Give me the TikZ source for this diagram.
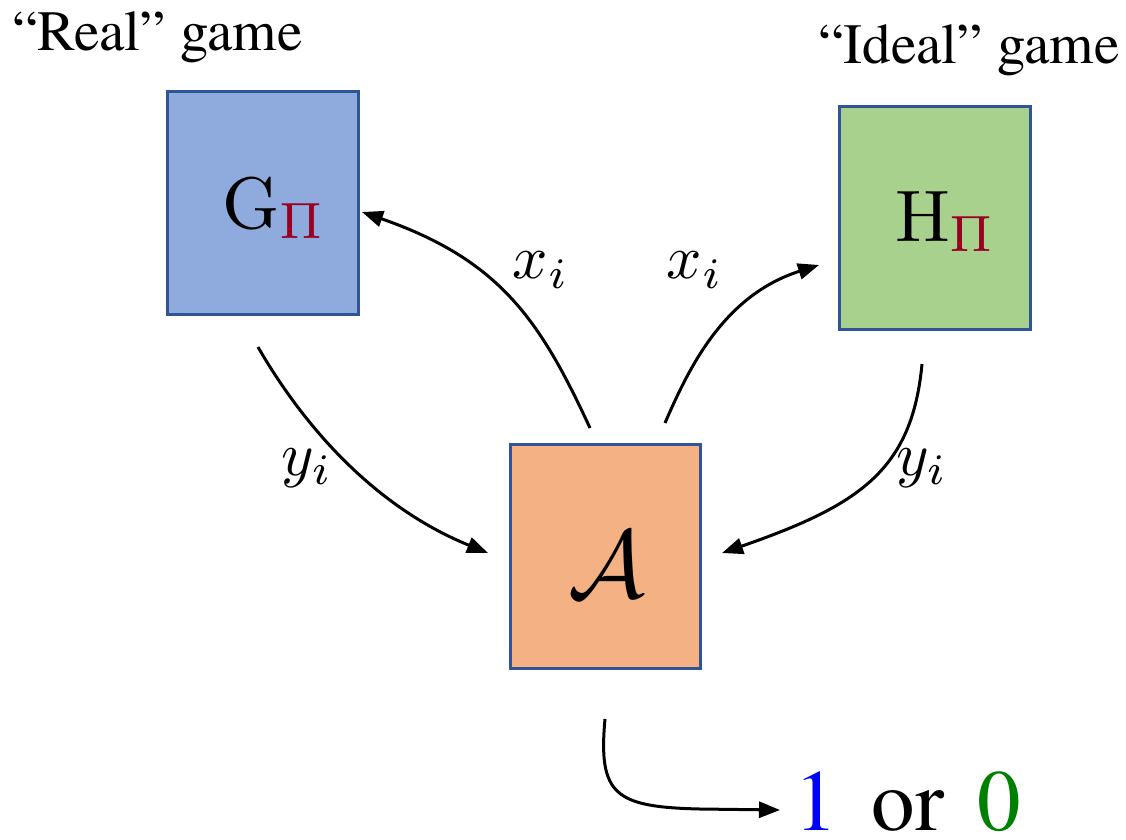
\documentclass[tikz,border=0pt]{standalone}
\usepackage{graphicx}
\usepackage[no-math]{fontspec}
\setmainfont{texgyretermes}[Extension=.otf, UprightFont=*-regular, BoldFont=*-bold, ItalicFont=*-italic, BoldItalicFont=*-bolditalic]
\usetikzlibrary{arrows.meta}
\definecolor{gblue}{HTML}{8FAADC}
\definecolor{ggreen}{HTML}{A9D18E}
\definecolor{gorange}{HTML}{F4B183}
\definecolor{bordc}{HTML}{2F5597}
\definecolor{pired}{HTML}{990022}
\definecolor{oneblue}{HTML}{0000FF}
\definecolor{zerogreen}{HTML}{008000}
\begin{document}
\begin{tikzpicture}[x=1pt,y=-1pt,
  box/.style={draw=bordc, line width=2.8pt, minimum width=191pt, minimum height=223pt, inner sep=0pt, anchor=north west},
  conn/.style={line width=3pt, -{Triangle[length=21pt,width=16pt]}},
  title/.style={anchor=base west, inner sep=0pt, font=\rmfamily\fontsize{57}{60}\selectfont},
  bigmath/.style={anchor=base west, inner sep=0pt},
  lab/.style={inner sep=0pt},
  res/.style={anchor=base, inner sep=0pt, font=\rmfamily\fontsize{87}{90}\selectfont}]
\useasboundingbox (0,0) rectangle (1126,839);

\node[title] (real) at (12,50) {“Real” game};
\node[title] (ideal) at (818,63) {“Ideal” game};

\node[box, fill=gblue] (G) at (166,90) {};
\node[box, fill=ggreen] (H) at (838,105) {};
\node[box, fill=gorange, minimum width=190pt, minimum height=224pt] (A) at (509,443) {};

\node[bigmath] (Gl) at (222,228) {\scalebox{7.3}{$\mathrm{G}_{\textcolor{pired}{\Pi}}$}};
\node[bigmath] (Hl) at (895,241) {\scalebox{7.3}{$\mathrm{H}_{\textcolor{pired}{\Pi}}$}};
\node[anchor=base, inner sep=0pt] (Al) at (607,597) {\scalebox{9.6}{$\mathcal{A}$}};

\coordinate (s1) at (590,428);
\coordinate (e1) at (362,212);
\coordinate (s2) at (665,423);
\coordinate (e2) at (819,265);
\coordinate (s3) at (258,347);
\coordinate (e3) at (488,553);
\coordinate (s4) at (922,364);
\coordinate (e4) at (722,553);
\coordinate (s5) at (605,719);
\coordinate (e5) at (780,810);

\draw[conn] (s1) .. controls (540,320) and (500,260) .. (e1);
\draw[conn] (s2) .. controls (690,365) and (725,295) .. (e2);
\draw[conn] (s3) .. controls (300,420) and (370,505) .. (e3);
\draw[conn] (s4) .. controls (912,470) and (860,505) .. (e4);
\draw[conn] (s5) .. controls (598,795) and (615,807) .. (700,809) -- (e5);

\node[lab] (x1) at (541,270) {\scalebox{6.2}{$x_i$}};
\node[lab] (x2) at (695,270) {\scalebox{6.2}{$x_i$}};
\node[lab] (y1) at (307,468) {\scalebox{6.2}{$y_i$}};
\node[lab] (y2) at (922,468) {\scalebox{6.2}{$y_i$}};

\node[res, text=oneblue] (one) at (816,830) {1};
\node[res] (or) at (908,830) {or};
\node[res, text=zerogreen] (zero) at (999,830) {0};
\end{tikzpicture}
\end{document}
